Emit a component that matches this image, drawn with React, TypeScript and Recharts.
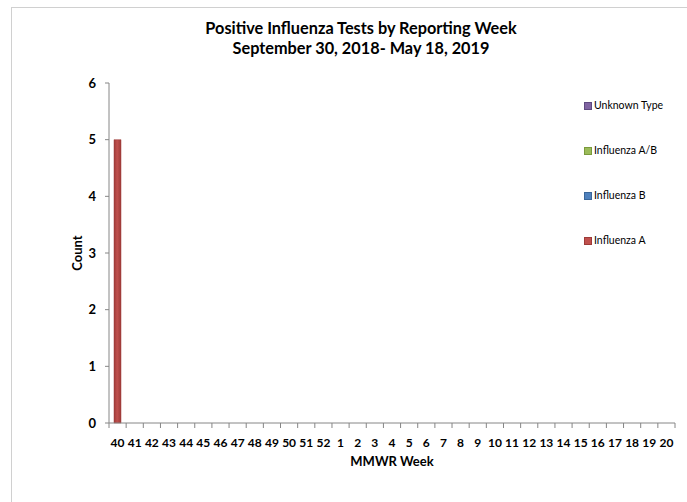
import { BarChart, Bar, XAxis, YAxis } from "recharts";

const weeks = [
  "40", "41", "42", "43", "44", "45", "46", "47", "48", "49", "50", "51", "52",
  "1", "2", "3", "4", "5", "6", "7", "8", "9", "10", "11", "12", "13", "14", "15", "16", "17", "18", "19", "20",
];
const influenzaA = [5, 0, 0, 0, 0, 0, 0, 0, 0, 0, 0, 0, 0, 0, 0, 0, 0, 0, 0, 0, 0, 0, 0, 0, 0, 0, 0, 0, 0, 0, 0, 0, 0];
const influenzaB = [0, 0, 0, 0, 0, 0, 0, 0, 0, 0, 0, 0, 0, 0, 0, 0, 0, 0, 0, 0, 0, 0, 0, 0, 0, 0, 0, 0, 0, 0, 0, 0, 0];
const influenzaAB = [0, 0, 0, 0, 0, 0, 0, 0, 0, 0, 0, 0, 0, 0, 0, 0, 0, 0, 0, 0, 0, 0, 0, 0, 0, 0, 0, 0, 0, 0, 0, 0, 0];
const unknownType = [0, 0, 0, 0, 0, 0, 0, 0, 0, 0, 0, 0, 0, 0, 0, 0, 0, 0, 0, 0, 0, 0, 0, 0, 0, 0, 0, 0, 0, 0, 0, 0, 0];
const yTicks = [0, 1, 2, 3, 4, 5, 6];

const series = [
  { key: "a", name: "Influenza A", color: "#c0504d", dark: "#9d3b38" },
  { key: "b", name: "Influenza B", color: "#4f81bd", dark: "#3a6699" },
  { key: "ab", name: "Influenza A/B", color: "#9bbb59", dark: "#7a9a3c" },
  { key: "unk", name: "Unknown Type", color: "#8064a2", dark: "#5f4a80" },
];

const data = weeks.map((w, i) => ({
  week: w,
  a: influenzaA[i],
  b: influenzaB[i],
  ab: influenzaAB[i],
  unk: unknownType[i],
}));

const W = 687;
const H = 502;
const LEFT = 59;
const YW = 50;
const RIGHT = 12;
const PLOT_W = W - LEFT - YW - RIGHT;
const BAND = PLOT_W / weeks.length;
const AXIS = "#868686";

const WeekTick = (props: any) => {
  const { x, y, payload, index } = props;
  const axisY = y - 8;
  return (
    <g>
      <line x1={x - BAND / 2} x2={x - BAND / 2} y1={axisY} y2={axisY + 5} stroke={AXIS} />
      {index === weeks.length - 1 && (
        <line x1={x + BAND / 2} x2={x + BAND / 2} y1={axisY} y2={axisY + 5} stroke={AXIS} />
      )}
      <text x={x} y={y} dy={16} textAnchor="middle" fontWeight="bold" fontSize={12} fill="#000">
        {payload.value}
      </text>
    </g>
  );
};

const LegendBox = () => (
  <div style={{ position: "absolute", left: 584, top: 99, width: 100 }}>
    {[...series].reverse().map((s) => (
      <div key={s.key} style={{ height: 45, display: "flex", alignItems: "flex-start" }}>
        <span
          style={{
            display: "inline-block",
            width: 6,
            height: 6,
            marginTop: 3,
            marginRight: 2,
            background: s.color,
            border: `0.5px solid ${s.dark}`,
          }}
        />
        <span style={{ fontSize: 10.5, color: "#000", lineHeight: "12px" }}>{s.name}</span>
      </div>
    ))}
  </div>
);

export default function App() {
  return (
    <div
      style={{
        position: "absolute",
        left: 0,
        top: 0,
        width: W,
        height: H,
        background: "#fff",
        fontFamily: "Lato, 'Open Sans', sans-serif",
      }}
    >
      <div
        style={{
          position: "absolute",
          left: 11,
          top: 7,
          right: 0,
          bottom: 0,
          borderLeft: "1px solid #d0d0d0",
          borderTop: "1px solid #d0d0d0",
        }}
      />
      <div
        style={{
          position: "absolute",
          top: 18,
          left: 201,
          width: 320,
          textAlign: "center",
          fontWeight: "bold",
          fontSize: 16.3,
          lineHeight: "20px",
          color: "#000",
        }}
      >
        Positive Influenza Tests by Reporting Week
        <br />
        September 30, 2018- May 18, 2019
      </div>
      <LegendBox />
      <div style={{ position: "absolute", left: 0, top: 0 }}>
        <BarChart
          width={W}
          height={H}
          data={data}
          margin={{ top: 83, right: RIGHT, left: LEFT, bottom: 49 }}
        >
          <defs>
            {series.map((s) => (
              <linearGradient key={s.key} id={`g-${s.key}`} x1="0" y1="0" x2="1" y2="0">
                <stop offset="0%" stopColor={s.dark} />
                <stop offset="45%" stopColor={s.color} />
                <stop offset="100%" stopColor={s.dark} />
              </linearGradient>
            ))}
          </defs>
          <XAxis
            dataKey="week"
            interval={0}
            height={30}
            tickLine={false}
            axisLine={{ stroke: AXIS }}
            tick={<WeekTick />}
            label={{
              value: "MMWR Week",
              position: "bottom",
              offset: 4,
              style: { fontWeight: "bold", fontSize: 13, fill: "#000" },
            }}
          />
          <YAxis
            width={YW}
            domain={[0, 6]}
            ticks={yTicks}
            interval={0}
            tickSize={4}
            tickMargin={9}
            axisLine={{ stroke: AXIS }}
            tickLine={{ stroke: AXIS }}
            tick={{ fontWeight: "bold", fontSize: 13, fill: "#000" }}
            label={{
              value: "Count",
              angle: -90,
              position: "insideLeft",
              offset: 18,
              style: { textAnchor: "middle", fontWeight: "bold", fontSize: 13, fill: "#000" },
            }}
          />
          {series.map((s) => (
            <Bar
              key={s.key}
              dataKey={s.key}
              name={s.name}
              stackId="x"
              barSize={7}
              fill={`url(#g-${s.key})`}
              stroke={s.dark}
              strokeWidth={0.5}
              isAnimationActive={false}
            />
          ))}
        </BarChart>
      </div>
    </div>
  );
}
